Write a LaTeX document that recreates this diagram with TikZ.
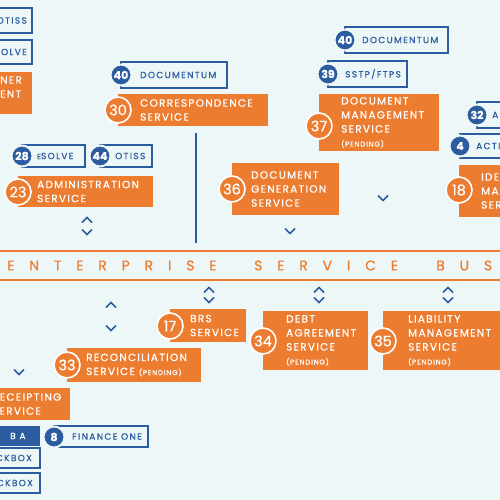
\documentclass[tikz,border=0pt]{standalone}
\usepackage{fontspec}
\setmainfont{Poppins}
\newfontfamily\lblf{Poppins}[LetterSpace=12, FakeBold=0.7]
\newfontfamily\blblf{Poppins}[LetterSpace=15, FakeBold=0.6]
\newfontfamily\esbf{Poppins}[LetterSpace=106, FakeBold=0.5]
\newfontfamily\numf{Poppins}[FakeBold=0.5]
\definecolor{bg}{RGB}{238,247,247}
\definecolor{ocol}{RGB}{236,124,48}
\definecolor{bcol}{RGB}{43,92,160}
\tikzset{
  obox/.style={fill=ocol, inner sep=0, outer sep=0},
  ocirc/.style={circle, fill=ocol, draw=white, line width=1.6pt, minimum size=26pt, inner sep=0, text=white, font=\numf\fontsize{14.5}{14.5}\selectfont},
  otxt/.style={text=white, align=left, inner sep=0, font=\lblf\fontsize{10.5}{14}\selectfont},
  bbox/.style={draw=bcol, line width=2pt, inner sep=0, outer sep=0},
  bfill/.style={fill=bcol, inner sep=0, outer sep=0},
  bcirc/.style={circle, fill=bcol, draw=bg, line width=2pt, minimum size=21pt, inner sep=0, text=white, font=\numf\bfseries\fontsize{11}{11}\selectfont},
  btxt/.style={text=bcol, inner sep=0, font=\blblf\fontsize{9}{10}\selectfont},
  chev/.style={draw=bcol, line width=1.5pt},
  chevup/.pic={\draw[chev] (-5,2.5) -- (0,-2.5) -- (5,2.5);},
  chevdn/.pic={\draw[chev] (-5,-2.5) -- (0,2.5) -- (5,-2.5);},
  esbline/.style={draw=ocol, line width=2.5pt},
  esbtxt/.style={text=ocol, inner sep=0, font=\esbf\fontsize{14}{14}\selectfont},
  vline/.style={draw=bcol, line width=2pt}
}
\newcommand\pend[1]{{\fontsize{7}{9}\selectfont #1}}
% name, cx, cy, textx, right, top, bottom, number, text
\newcommand\osvc[9]{%
  \node[obox, minimum width={#5-#2}, minimum height={#7-#6}, anchor=north west] (#1) at (#2,#6) {};
  \node[ocirc] (#1c) at (#2,#3) {#8};
  \node[otxt, anchor=west] (#1t) at (#4,{(#6+#7)/2}) {#9};
}
\newcommand\bsvc[9]{%
  \node[bbox, minimum width={#5-#2}, minimum height={#7-#6}, anchor=north west] (#1) at (#2,#6) {};
  \node[bcirc] (#1c) at (#2,#3) {#8};
  \node[btxt, anchor=west] (#1t) at (#4,{(#6+#7)/2}) {#9};
}
\begin{document}
\begin{tikzpicture}[x=1pt,y=-1pt]
\useasboundingbox (0,0) rectangle (500,500);
\fill[bg] (0,0) rectangle (500,500);
\clip (0,0) rectangle (500,500);

% top-left partial items
\node[bbox, minimum width=72, minimum height=25, anchor=north west] (lotiss) at (-40,8) {};
\node[btxt, anchor=east] (lotisst) at (27,20.5) {OTISS};
\node[bbox, minimum width=72, minimum height=24, anchor=north west] (lesolve) at (-40,40) {};
\node[btxt, anchor=east] (lesolvet) at (27,52) {ESOLVE};
\node[obox, minimum width=92, minimum height=42, anchor=north west] (lpart) at (-60,72) {};
\node[otxt, anchor=west] (lpartt) at (0,87) {NER\\ENT};

% blue labels
\bsvc{d40a}{121}{75}{140}{227}{62}{88}{40}{DOCUMENTUM}
\bsvc{d40b}{345}{40}{362}{448}{27}{53}{40}{DOCUMENTUM}
\bsvc{d39}{328}{74}{345}{407}{61}{87}{39}{SSTP/FTPS}
\bsvc{d32}{477}{115}{492}{560}{102}{128}{32}{A}
\bsvc{d4}{460}{146}{476}{560}{134}{158}{4}{ACTI}
\bsvc{d28}{22}{156}{37}{85}{145}{167}{28}{{\fontsize{7.5}{9}\selectfont E}SOLVE}
\bsvc{d44}{100}{156}{115}{152}{145}{167}{44}{OTISS}

% orange services
\osvc{s30}{118}{110}{140}{268}{94}{126}{30}{CORRESPONDENCE\\SERVICE}
\osvc{s37}{319}{126}{341}{439}{94}{151}{37}{DOCUMENT\\MANAGEMENT\\SERVICE\\\pend{(PENDING)}}
\osvc{s36}{232}{189}{251}{339}{163}{215}{36}{DOCUMENT\\GENERATION\\SERVICE}
\osvc{s18}{459}{190}{481}{560}{165}{217}{18}{IDE\\MA\\SER}
\osvc{s23}{18}{192}{37}{153}{176}{207}{23}{ADMINISTRATION\\SERVICE}
\osvc{s17}{170}{326}{190}{246}{309}{342}{17}{BRS\\SERVICE}
\osvc{s34}{263}{341}{286}{368}{311}{370}{34}{DEBT\\AGREEMENT\\SERVICE\\\pend{(PENDING)}}
\osvc{s35}{383}{341}{408}{560}{311}{370}{35}{LIABILITY\\MANAGEMENT\\SERVICE\\\pend{(PENDING)}}
\osvc{s33}{67}{365}{86}{201}{348}{382}{33}{RECONCILIATION\\SERVICE \pend{(PENDING)}}

\node[obox, minimum width=130, minimum height=32, anchor=north west] (srec) at (-60,388) {};
\node[otxt, anchor=west] (srect) at (-8,404) {RECEIPTING\\SERVICE};

% bottom blue labels
\node[bfill, minimum width=80, minimum height=20, anchor=north west] (bba) at (-40,426) {};
\node[btxt, text=white, anchor=west] (bbat) at (10,436) {B A};
\bsvc{b8}{54}{437}{72}{148}{426}{447}{8}{FINANCE ONE}
\node[bbox, minimum width=80, minimum height=20, anchor=north west] (ck1) at (-40,448) {};
\node[btxt, anchor=east] (ck1t) at (32,458) {CKBOX};
\node[bbox, minimum width=80, minimum height=20, anchor=north west] (ck2) at (-40,473) {};
\node[btxt, anchor=east] (ck2t) at (33,483) {CKBOX};

% enterprise service bus
\draw[esbline] (0,251) -- (500,251);
\draw[esbline] (0,280) -- (500,280);
\node[esbtxt, anchor=west] (esb1) at (7,265.5) {ENTERPRISE};
\node[esbtxt, anchor=west] (esb2) at (254,265.5) {SERVICE};
\node[esbtxt, anchor=west] (esb3) at (436,265.5) {BUS};

% vertical connector
\coordinate (v1) at (196,133);
\coordinate (v2) at (196,243);
\draw[vline] (v1) -- (v2);

% chevrons
\pic at (87,220) {chevup};
\pic at (87,232) {chevdn};
\pic at (383,198) {chevdn};
\pic at (290,231) {chevdn};
\pic at (209,290) {chevup};
\pic at (209,300) {chevdn};
\pic at (319,290) {chevup};
\pic at (319,300) {chevdn};
\pic at (448,290) {chevup};
\pic at (448,300) {chevdn};
\pic at (111,305) {chevup};
\pic at (111,328) {chevdn};
\pic at (19,372) {chevdn};
\end{tikzpicture}
\end{document}
